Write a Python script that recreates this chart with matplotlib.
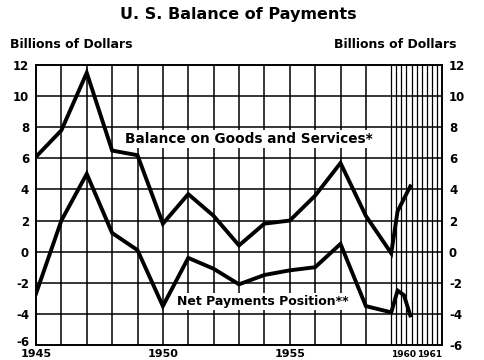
import matplotlib
matplotlib.use('Agg')
import matplotlib.pyplot as plt
import matplotlib.transforms as mtransforms
import numpy as np

# Dados (bilhoes de dolares)
anos = [1945, 1946, 1947, 1948, 1949, 1950, 1951, 1952, 1953, 1954, 1955, 1956, 1957, 1958, 1959]
bens_servicos = [6.1, 7.8, 11.5, 6.5, 6.2, 1.8, 3.7, 2.3, 0.4, 1.8, 2.0, 3.6, 5.7, 2.3, -0.1]
pagamentos_liq = [-2.7, 2.0, 5.0, 1.2, 0.1, -3.5, -0.4, -1.1, -2.1, -1.5, -1.2, -1.0, 0.5, -3.5, -3.9]

# 1960 em trimestres (1o, 2o, 3o)
trimestres_1960 = [1, 2, 3]
bens_servicos_1960 = [2.6, 3.4, 4.2]
pagamentos_liq_1960 = [-2.5, -2.8, -4.1]

anos_rotulo = ['1945', '1950', '1955']
y_ticks = list(range(-6, 13, 2))

FONTE = 'DejaVu Sans'
plt.rcParams['font.family'] = [FONTE]

fig = plt.figure(figsize=(4.85, 3.6), dpi=100)
ax = fig.add_axes([36 / 485, 15 / 360, 406 / 485, 280 / 360])

# 1960 ocupa o intervalo 1959-1960 no eixo, 1961 o intervalo 1960-1961
x_anual = np.array(anos, dtype=float)
x_trim = 1959 + np.array(trimestres_1960) / 4.0
x_bens = np.concatenate([x_anual, x_trim])
x_pag = np.concatenate([x_anual, x_trim])
y_bens = np.concatenate([bens_servicos, bens_servicos_1960])
y_pag = np.concatenate([pagamentos_liq, pagamentos_liq_1960])

ax.set_xlim(1945, 1961)
ax.set_ylim(-6, 12)

# grade
for a in range(1946, 1959):
    ax.axvline(a, color='black', lw=1.1, zorder=1)
for v in np.arange(1959, 1961.01, 0.2):
    ax.axvline(v, color='black', lw=0.9, zorder=1)
for v in y_ticks[1:-1]:
    ax.axhline(v, color='black', lw=1.1, zorder=1)

ax.plot(x_bens, y_bens, color='black', lw=2.8, solid_joinstyle='miter', zorder=3)
ax.plot(x_pag, y_pag, color='black', lw=2.8, solid_joinstyle='miter', zorder=3)

for s in ax.spines.values():
    s.set_linewidth(1.4)

ax.set_yticks(y_ticks)
ax.set_yticklabels([str(v) for v in y_ticks], fontsize=8.5, fontweight='bold')
ax.tick_params(axis='y', length=0, pad=5, labelright=True, right=False)
# -6 da esquerda levemente acima para nao encostar no 1945
sobe = mtransforms.ScaledTranslation(0, 3 / 72, fig.dpi_scale_trans)
rot_menos6 = ax.yaxis.get_major_ticks()[0].label1
rot_menos6.set_transform(rot_menos6.get_transform() + sobe)
ax.set_xticks([1945, 1950, 1955])
ax.set_xticklabels(anos_rotulo, fontsize=8, fontweight='bold')
ax.tick_params(axis='x', length=0, pad=3)

ax.text(1959.5, -6.35, '1960', fontsize=6.5, fontweight='bold', ha='center', va='top')
ax.text(1960.5, -6.35, '1961', fontsize=6.5, fontweight='bold', ha='center', va='top')

ax.text(1948.5, 7.25, 'Balance on Goods and Services*', fontsize=9.8, fontweight='bold',
        ha='left', va='center', zorder=4,
        bbox=dict(facecolor='white', edgecolor='none', pad=1.5))
ax.text(1950.55, -3.2, 'Net Payments Position**', fontsize=9, fontweight='bold',
        ha='left', va='center', zorder=4,
        bbox=dict(facecolor='white', edgecolor='none', pad=1.5))

fig.text(238 / 485, 1 - 15 / 360, 'U. S. Balance of Payments', fontsize=11.5, fontweight='bold',
         ha='center', va='center')
fig.text(10 / 485, 1 - 45 / 360, 'Billions of Dollars', fontsize=9, fontweight='bold',
         ha='left', va='center')
fig.text(457 / 485, 1 - 45 / 360, 'Billions of Dollars', fontsize=9, fontweight='bold',
         ha='right', va='center')

fig.savefig('out.png', dpi=100)
